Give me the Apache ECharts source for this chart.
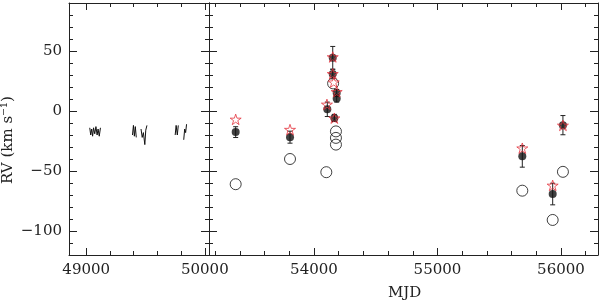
<!DOCTYPE html>
<html>
<head>
<meta charset="utf-8">
<script src="https://cdn.jsdelivr.net/npm/echarts@6/dist/echarts.min.js"></script>
<style>
  html, body { margin: 0; padding: 0; background: #fff; }
  #main { width: 600px; height: 300px; }
</style>
</head>
<body>
<div id="main"></div>
<script>
// 左图：早期观测（折线）
var oldRV = [
  [49030, -14], [49038, -20], [49046, -15], [49054, -21], [49062, -14], [49072, -19],
  [49082, -13], [49092, -20], [49100, -15], [49110, -21], [49120, -14], '-',
  [49390, -20], [49398, -12], [49406, -21], [49414, -13], [49422, -22], '-',
  [49462, -15], [49472, -22], [49482, -18], [49494, -28], [49502, -16], [49512, -12], '-',
  [49750, -20], [49758, -12], [49768, -20], [49776, -12], '-',
  [49822, -24], [49830, -15], [49838, -18], [49846, -11]
];

// 右图：实心点 [MJD, RV, 误差]
var filledRV = [
  [53366, -17.6, 4.5], [53806, -21.8, 5], [54108, 1.4, 6], [54152, 44.3, 9.5],
  [54152, 30.8, 4], [54184, 15, 3], [54184, 10.4, 3], [54165, -5.8, 3],
  [55687, -37.8, 9], [55933, -69.2, 9], [56016, -11.8, 8]
];
// 空心圆
var openRV = [
  [53366, -61], [53806, -40], [54100, -51], [54155, 23], [54178, -17],
  [54178, -22.4], [54178, -28], [55687, -66.4], [55933, -90.8], [56016, -50.7]
];
// 红色五角星
var starRV = [
  [53366, -7], [53806, -15.5], [54105, 5.5], [54152, 45], [54152, 31],
  [54160, 24], [54184, 16], [54165, -6], [55687, -31], [55933, -62], [56016, -12]
];

// 坐标轴刻度
var leftXMajor = [49000, 50000];
var leftXMinor = [49000, 49200, 49400, 49600, 49800, 50000];
var rightXMajor = [54000, 55000, 56000];
var rightXMinor = [53200, 53400, 53600, 53800, 54000, 54200, 54400, 54600, 54800, 55000,
  55200, 55400, 55600, 55800, 56000, 56200];
var yMajor = [-100, -50, 0, 50];
var yMinor = [-110, -100, -90, -80, -70, -60, -50, -40, -30, -20, -10, 0, 10, 20, 30, 40, 50, 60, 70, 80];

var frameColor = '#222';
var fontFam = 'DejaVu Serif';
var starPath = 'path://M100 0 L122.45 69.1 L195.1 69.1 L136.3 111.8 L158.8 180.9 L100 138.2 L41.2 180.9 L63.7 111.8 L4.9 69.1 L77.55 69.1 Z';

function fmtMinus(v) {
  return String(v).replace('-', '\u2212');
}

// 生成一条只画刻度的轴
function makeAxis(dim, gridIndex, pos, min, max, ticks, len, labels, showLine) {
  var ax = {
    type: 'value',
    gridIndex: gridIndex,
    position: pos,
    min: min,
    max: max,
    splitLine: { show: false },
    axisLine: { show: showLine, onZero: false, lineStyle: { color: frameColor, width: 1 } },
    axisTick: { show: true, inside: true, length: len, customValues: ticks,
      lineStyle: { color: frameColor, width: 1 } },
    axisLabel: { show: false }
  };
  if (labels) {
    ax.axisLabel = {
      show: true, customValues: labels, color: frameColor,
      fontFamily: fontFam, fontSize: 15, margin: dim === 'x' ? 8 : 7,
      formatter: fmtMinus
    };
  }
  return ax;
}

var xAxes = [
  // 0, 1 : data axes
  makeAxis('x', 0, 'bottom', 48855, 50035, leftXMajor, 7, leftXMajor, true),
  makeAxis('x', 1, 'bottom', 53150, 56300, rightXMajor, 7, rightXMajor, true),
  makeAxis('x', 0, 'bottom', 48855, 50035, leftXMinor, 4, null, false),
  makeAxis('x', 1, 'bottom', 53150, 56300, rightXMinor, 4, null, false),
  makeAxis('x', 0, 'top', 48855, 50035, leftXMajor, 7, null, true),
  makeAxis('x', 1, 'top', 53150, 56300, rightXMajor, 7, null, true),
  makeAxis('x', 0, 'top', 48855, 50035, leftXMinor, 4, null, false),
  makeAxis('x', 1, 'top', 53150, 56300, rightXMinor, 4, null, false)
];
var yAxes = [
  makeAxis('y', 0, 'left', -120, 90, yMajor, 8, yMajor, true),
  makeAxis('y', 1, 'left', -120, 90, yMajor, 8, null, true),
  makeAxis('y', 0, 'left', -120, 90, yMinor, 4, null, false),
  makeAxis('y', 1, 'left', -120, 90, yMinor, 4, null, false),
  makeAxis('y', 0, 'right', -120, 90, yMajor, 8, null, true),
  makeAxis('y', 1, 'right', -120, 90, yMajor, 8, null, true),
  makeAxis('y', 0, 'right', -120, 90, yMinor, 4, null, false),
  makeAxis('y', 1, 'right', -120, 90, yMinor, 4, null, false)
];

var chart = echarts.init(document.getElementById('main'));
var option = {
  animation: false,
  backgroundColor: '#fff',
  grid: [
    { left: 69, top: 3, width: 140, bottom: 45, outerBoundsMode: 'none' },
    { left: 209, top: 3, width: 389, bottom: 45, outerBoundsMode: 'none' }
  ],
  xAxis: xAxes,
  yAxis: yAxes,
  graphic: [
    { type: 'text', left: 406 - 18, top: 286,
      style: { text: 'MJD', font: '15px "DejaVu Serif"', fill: frameColor } },
    { type: 'text', x: 8, y: 140, rotation: Math.PI / 2,
      style: { text: 'RV (km s\u207B\u00B9)', font: '15px "DejaVu Serif"', fill: frameColor,
        align: 'center', verticalAlign: 'middle' } }
  ],
  series: [
    {
      name: 'old', type: 'line', xAxisIndex: 0, yAxisIndex: 0,
      data: oldRV, symbol: 'none', connectNulls: false,
      lineStyle: { color: '#111', width: 1 }
    },
    {
      name: 'open', type: 'scatter', xAxisIndex: 1, yAxisIndex: 1, z: 2,
      data: openRV, symbol: 'circle', symbolSize: 11,
      itemStyle: { color: 'transparent', borderColor: '#111', borderWidth: 1 }
    },
    {
      name: 'err', type: 'custom', xAxisIndex: 1, yAxisIndex: 1, z: 3,
      data: filledRV, encode: { x: 0, y: 1 },
      renderItem: function (params, api) {
        var x = api.value(0), y = api.value(1), e = api.value(2);
        var top = api.coord([x, y + e]);
        var bot = api.coord([x, y - e]);
        var w = 2.5;
        var st = { stroke: '#222', lineWidth: 1 };
        return {
          type: 'group',
          children: [
            { type: 'line', shape: { x1: top[0], y1: top[1], x2: bot[0], y2: bot[1] }, style: st },
            { type: 'line', shape: { x1: top[0] - w, y1: top[1], x2: top[0] + w, y2: top[1] }, style: st },
            { type: 'line', shape: { x1: bot[0] - w, y1: bot[1], x2: bot[0] + w, y2: bot[1] }, style: st }
          ]
        };
      }
    },
    {
      name: 'filled', type: 'scatter', xAxisIndex: 1, yAxisIndex: 1, z: 4,
      data: filledRV, symbol: 'circle', symbolSize: 8,
      itemStyle: { color: '#111' }
    },
    {
      name: 'star', type: 'scatter', xAxisIndex: 1, yAxisIndex: 1, z: 5,
      data: starRV, symbol: starPath, symbolSize: 11, symbolKeepAspect: true,
      itemStyle: { color: 'transparent', borderColor: '#e3323c', borderWidth: 1 }
    }
  ]
};
chart.setOption(option);
</script>
</body>
</html>
